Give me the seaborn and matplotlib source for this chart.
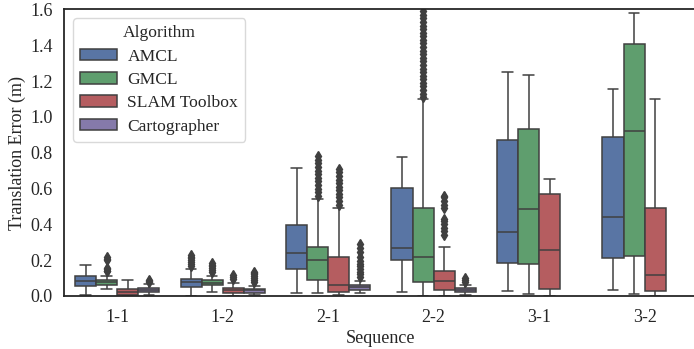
import numpy as np
import pandas as pd
import matplotlib
matplotlib.use("Agg")
import matplotlib.pyplot as plt
import seaborn as sns

sequences = ["1-1", "1-2", "2-1", "2-2", "3-1", "3-2"]
algorithms = ["AMCL", "GMCL", "SLAM Toolbox", "Cartographer"]
colors = ["#4C72B0", "#55A868", "#C44E52", "#8172B2"]

# box statistics: [whislo, q1, median, q3, whishi]
amcl_stats = {
    "1-1": [0.003, 0.054, 0.082, 0.110, 0.172],
    "1-2": [0.002, 0.052, 0.080, 0.097, 0.151],
    "2-1": [0.017, 0.151, 0.242, 0.397, 0.714],
    "2-2": [0.024, 0.201, 0.269, 0.602, 0.774],
    "3-1": [0.028, 0.186, 0.356, 0.871, 1.251],
    "3-2": [0.032, 0.211, 0.440, 0.888, 1.156],
}
gmcl_stats = {
    "1-1": [0.039, 0.062, 0.077, 0.091, 0.110],
    "1-2": [0.024, 0.060, 0.074, 0.088, 0.112],
    "2-1": [0.015, 0.090, 0.200, 0.276, 0.541],
    "2-2": [0.001, 0.080, 0.217, 0.489, 1.102],
    "3-1": [0.009, 0.177, 0.487, 0.934, 1.233],
    "3-2": [0.013, 0.225, 0.921, 1.408, 1.578],
}
slam_stats = {
    "1-1": [0.001, 0.006, 0.024, 0.041, 0.088],
    "1-2": [0.001, 0.015, 0.032, 0.045, 0.071],
    "2-1": [0.003, 0.021, 0.062, 0.216, 0.490],
    "2-2": [0.001, 0.034, 0.086, 0.142, 0.276],
    "3-1": [0.001, 0.037, 0.256, 0.567, 0.653],
    "3-2": [0.001, 0.030, 0.119, 0.489, 1.102],
}
carto_stats = {
    "1-1": [0.005, 0.024, 0.034, 0.044, 0.065],
    "1-2": [0.005, 0.019, 0.032, 0.041, 0.056],
    "2-1": [0.019, 0.034, 0.049, 0.060, 0.085],
    "2-2": [0.004, 0.022, 0.034, 0.043, 0.062],
}

# outlier values
amcl_fliers = {
    "1-2": [0.170, 0.180, 0.190, 0.200, 0.210, 0.220, 0.228],
}
gmcl_fliers = {
    "1-1": [0.137, 0.142, 0.148, 0.155, 0.200, 0.208, 0.215],
    "1-2": [0.135, 0.145, 0.155, 0.165, 0.175, 0.185],
    "2-1": [0.56, 0.58, 0.60, 0.62, 0.64, 0.66, 0.68, 0.70, 0.72, 0.74, 0.76, 0.78],
    "2-2": [1.11, 1.13, 1.15, 1.17, 1.19, 1.21, 1.23, 1.25, 1.27, 1.29, 1.31, 1.33, 1.35,
            1.37, 1.39, 1.41, 1.43, 1.45, 1.47, 1.49, 1.51, 1.53, 1.55, 1.57, 1.59, 1.62],
}
slam_fliers = {
    "1-2": [0.095, 0.105, 0.115],
    "2-1": [0.51, 0.53, 0.55, 0.57, 0.59, 0.61, 0.63, 0.65, 0.67, 0.69, 0.71],
    "2-2": [0.34, 0.36, 0.38, 0.40, 0.42, 0.43, 0.49, 0.51, 0.53, 0.55, 0.56],
}
carto_fliers = {
    "1-1": [0.078, 0.084, 0.090],
    "1-2": [0.080, 0.090, 0.100, 0.110, 0.120, 0.130, 0.136],
    "2-1": [0.105, 0.120, 0.135, 0.150, 0.165, 0.180, 0.195, 0.220, 0.245, 0.270, 0.290],
    "2-2": [0.080, 0.090, 0.100],
}

all_stats = {"AMCL": amcl_stats, "GMCL": gmcl_stats,
             "SLAM Toolbox": slam_stats, "Cartographer": carto_stats}
all_fliers = {"AMCL": amcl_fliers, "GMCL": gmcl_fliers,
              "SLAM Toolbox": slam_fliers, "Cartographer": carto_fliers}


def sample_from_stats(st, fl):
    """Build a sample whose quartiles / whiskers / outliers equal the read values."""
    lo, q1, med, q3, hi = st
    fl = sorted(fl)
    k = len(fl) + 1
    vals = ([lo] + [q1] * (k - 1) + [q1] + [med] * (k - 1) + [med]
            + [q3] * (k - 1) + [q3] + [hi] + fl)
    return vals


rows = []
for alg in algorithms:
    for seq in sequences:
        if seq in all_stats[alg]:
            for v in sample_from_stats(all_stats[alg][seq], all_fliers[alg].get(seq, [])):
                rows.append((seq, alg, v))
df = pd.DataFrame(rows, columns=["Sequence", "Algorithm", "Translation Error (m)"])

sns.set_theme(style="white")
plt.rcParams["font.family"] = ["Liberation Serif", "DejaVu Serif"]
FS = 13
LFS = 12.6

fig = plt.figure(figsize=(6.94, 3.49), dpi=100)
ax = fig.add_axes([0.0929, 0.152, 0.912, 0.821])

sns.boxplot(data=df, x="Sequence", y="Translation Error (m)", hue="Algorithm",
            order=sequences, hue_order=algorithms, palette=colors, ax=ax,
            saturation=0.75, width=0.8, linewidth=1.1, linecolor="#404040",
            fliersize=5,
            flierprops=dict(marker="d", markerfacecolor="#404040",
                            markeredgecolor="#404040"),
            whis=1.5)

ax.set_ylim(0, 1.6)
ax.set_yticks([0.0, 0.2, 0.4, 0.6, 0.8, 1.0, 1.2, 1.4, 1.6])
ax.set_yticklabels(["0.0", "0.2", "0.4", "0.6", "0.8", "1.0", "1.2", "1.4", "1.6"])
ax.tick_params(axis="y", labelsize=FS, length=0, pad=8.5)
ax.tick_params(axis="x", labelsize=FS, length=0, pad=9.5)
ax.set_xlabel("Sequence", fontsize=FS, labelpad=3)
ax.set_ylabel("Translation Error (m)", fontsize=FS, labelpad=3)
for s in ["left", "top", "bottom"]:
    ax.spines[s].set_color("#262626")
    ax.spines[s].set_linewidth(1.3)
ax.spines["right"].set_visible(False)

leg = ax.legend(title="Algorithm", loc="upper left", fontsize=LFS, title_fontsize=LFS,
                frameon=True, labelspacing=0.42, borderaxespad=0.5, handletextpad=0.6,
                handlelength=2.1, handleheight=0.65)
leg.get_frame().set_edgecolor("#d0d0d0")

fig.savefig("out.png", dpi=100)
